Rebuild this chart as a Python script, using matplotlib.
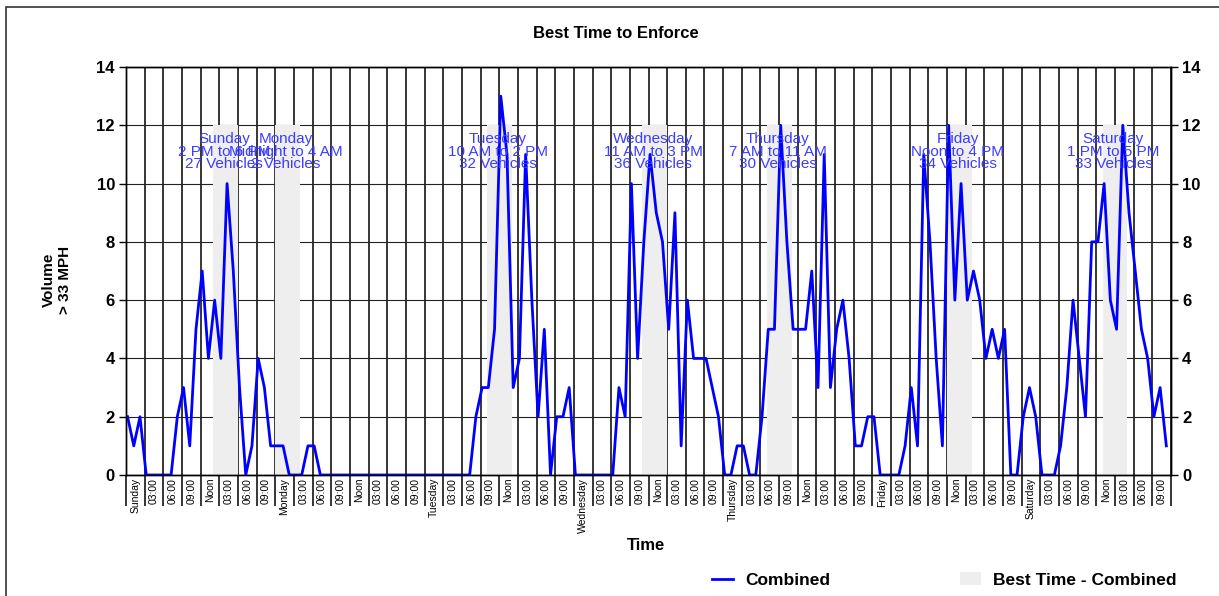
import numpy as np
import matplotlib.pyplot as plt
from matplotlib.lines import Line2D
from matplotlib.patches import Patch, Rectangle

plt.rcParams['font.family'] = ['Liberation Sans', 'DejaVu Sans']
NARROW = ['Liberation Sans Narrow', 'Liberation Sans', 'DejaVu Sans']

# hourly volume > 33 MPH, one list per day (midnight .. 11 PM)
days = ["Sunday", "Monday", "Tuesday", "Wednesday", "Thursday", "Friday", "Saturday"]
sunday = [2, 1, 2, 0, 0, 0, 0, 0, 2, 3, 1, 5, 7, 4, 6, 4, 10, 7, 3, 0, 1, 4, 3, 1]
monday = [1, 1, 0, 0, 0, 1, 1, 0, 0, 0, 0, 0, 0, 0, 0, 0, 0, 0, 0, 0, 0, 0, 0, 0]
tuesday = [0, 0, 0, 0, 0, 0, 0, 0, 2, 3, 3, 5, 13, 11, 3, 4, 11, 6, 2, 5, 0, 2, 2, 3]
wednesday = [0, 0, 0, 0, 0, 0, 0, 3, 2, 10, 4, 8, 11, 9, 8, 5, 9, 1, 6, 4, 4, 4, 3, 2]
thursday = [0, 0, 1, 1, 0, 0, 2, 5, 5, 12, 8, 5, 5, 5, 7, 3, 11, 3, 5, 6, 4, 1, 1, 2]
friday = [2, 0, 0, 0, 0, 1, 3, 1, 11, 8, 4, 1, 12, 6, 10, 6, 7, 6, 4, 5, 4, 5, 0, 0]
saturday = [2, 3, 2, 0, 0, 0, 1, 3, 6, 4, 2, 8, 8, 10, 6, 5, 12, 9, 7, 5, 4, 2, 3, 1]

# best 4-hour window per day
best_start = [14, 0, 10, 11, 7, 12, 13]
best_ranges = ["2 PM to 6 PM", "Midnight to 4 AM", "10 AM to 2 PM", "11 AM to 3 PM",
               "7 AM to 11 AM", "Noon to 4 PM", "1 PM to 5 PM"]
best_totals = [27, 2, 32, 36, 30, 34, 33]
band_top = 12

hour_labels = ["03:00", "06:00", "09:00", "Noon", "03:00", "06:00", "09:00"]

volume = np.array(sunday + monday + tuesday + wednesday + thursday + friday + saturday)
hours = np.arange(len(volume)) + 0.25

fig = plt.figure(figsize=(12.19, 5.96), dpi=100)
ax = fig.add_axes([126 / 1219, 1 - 475 / 596, 1045 / 1219, 408 / 596])

# grid
ax.set_axisbelow(True)
ax.grid(axis='x', which='major', color='black', lw=1.1)
ax.grid(axis='y', which='major', color='#222222', lw=0.8)

# best-time bands
band_x = [24 * d + s for d, s in enumerate(best_start)]
ax.bar(band_x, band_top, width=4, align='edge', color='#eeeeee', zorder=1)

ax.plot(hours, volume, color='#0000ff', lw=2.0, zorder=3)

for d in range(7):
    ax.text(band_x[d] + 1.75, 11.1,
            f"{days[d]}\n{best_ranges[d]}\n{best_totals[d]} Vehicles",
            ha='center', va='center', color='#3c3cff', fontsize=11,
            linespacing=0.87, zorder=4)

# x axis
ax.set_xlim(0, 168)
ax.set_xticks(np.arange(0, 169, 3))
ax.set_xticklabels([])
ax.set_xticks(np.arange(1.5, 168, 3), minor=True)
tick_labels = []
for d in days:
    tick_labels += [d] + hour_labels
ax.set_xticklabels(tick_labels, minor=True, rotation=90, va='top', ha='center',
                   fontsize=7.5, family=NARROW)
ax.tick_params(axis='x', which='major', length=22, width=1.1, color='black')
ax.tick_params(axis='x', which='minor', length=0, pad=2)

# y axes
ax.set_ylim(0, 14)
ax.set_yticks(range(0, 15, 2))
ax.tick_params(axis='y', length=5, width=1, pad=3)
for t in ax.get_yticklabels():
    t.set_fontweight('bold')
    t.set_fontsize(12)
ax2 = ax.twinx()
ax2.set_ylim(0, 14)
ax2.set_yticks(range(0, 15, 2))
ax2.tick_params(axis='y', length=5, width=1, pad=3)
for t in ax2.get_yticklabels():
    t.set_fontweight('bold')
    t.set_fontsize(12)
for a in (ax, ax2):
    for sp in a.spines.values():
        sp.set_color('black')
        sp.set_linewidth(1)

fig.text(0.505, 1 - 33 / 596, "Best Time to Enforce", ha='center', va='center',
         fontweight='bold', fontsize=12)
fig.text(646 / 1219, 1 - 545 / 596, "Time", ha='center', va='center',
         fontweight='bold', fontsize=12)
fig.text(57 / 1219, 1 - 280 / 596, "Volume\n> 33 MPH", rotation=90, ha='center',
         va='center', fontweight='bold', fontsize=11, family=NARROW)

handles = [Line2D([], [], color='#0000ff', lw=2),
           Patch(facecolor='#eeeeee', edgecolor='none')]
fig.legend(handles, ["Combined", "Best Time - Combined"], ncol=2, loc='center left',
           bbox_to_anchor=(698 / 1219, 1 - 580 / 596), frameon=False,
           prop={'weight': 'bold', 'size': 12.5}, handlelength=1.2,
           handletextpad=0.7, columnspacing=7.5, borderpad=0.3)

fig.add_artist(Rectangle((6 / 1219, -0.1), 1.2, 1.1 - 7 / 596, fill=False,
                         transform=fig.transFigure, ec='#333333', lw=1.2))

fig.savefig('out.png', dpi=100)
